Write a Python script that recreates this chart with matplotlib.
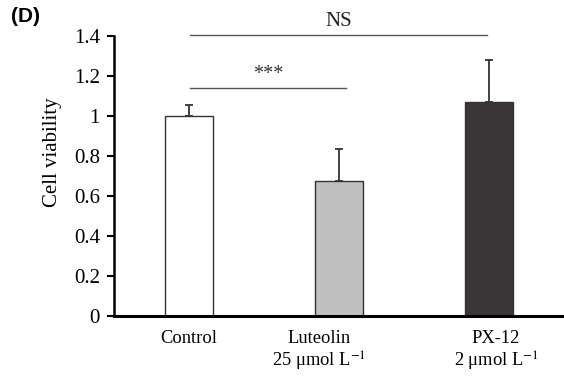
import matplotlib
matplotlib.use("Agg")
import matplotlib.pyplot as plt
import matplotlib.transforms as mtransforms

categories = ["Control", "Luteolin\n25 μmol L$^{-1}$", "PX-12\n2 μmol L$^{-1}$"]
values = [1.0, 0.675, 1.07]
errors = [0.055, 0.16, 0.21]
colors = ["#ffffff", "#c0c0c0", "#3a3637"]
yticks = [0, 0.2, 0.4, 0.6, 0.8, 1, 1.2, 1.4]
ytick_labels = ["0", "0.2", "0.4", "0.6", "0.8", "1", "1.2", "1.4"]
label_shift_px = [0, -20, 7]

plt.rcParams['font.family'] = ['Liberation Serif', 'DejaVu Serif']
plt.rcParams['mathtext.fontset'] = 'stix'

fig = plt.figure(figsize=(5.64, 3.77), dpi=100)
ax = fig.add_axes([0.202, 0.162, 0.798, 0.7425])

x = list(range(len(values)))
ax.bar(x, values, width=0.32, color=colors, edgecolor="#333333", linewidth=1.0, zorder=2)
ax.errorbar(x, values, yerr=[[0]*len(errors), errors], fmt='none', ecolor="#333333",
            elinewidth=1.3, capsize=3, capthick=1.3, zorder=1)

ax.set_xlim(-0.5, 2.5)
ax.set_ylim(0, 1.4)
ax.set_yticks(yticks)
ax.set_yticklabels(ytick_labels, fontsize=15)
ax.set_xticks(x)
ax.set_xticklabels(categories, fontsize=13.3, linespacing=1.2)
ax.tick_params(axis='x', length=0, pad=10)
ax.tick_params(axis='y', direction='out', length=5, width=1.5, pad=5)
for lbl, dx in zip(ax.get_xticklabels(), label_shift_px):
    lbl.set_transform(lbl.get_transform() + mtransforms.ScaledTranslation(dx/100, 0, fig.dpi_scale_trans))

for s in ['top', 'right']:
    ax.spines[s].set_visible(False)
ax.spines['left'].set_linewidth(1.8)
ax.spines['bottom'].set_linewidth(2.2)
ax.set_ylabel("Cell viability", fontsize=15)
ax.yaxis.set_label_coords(-0.116, 0.586)

# significance lines
ax.plot([0.01, 1.05], [1.14, 1.14], color="#555555", lw=1.0, clip_on=False)
ax.text(0.53, 1.16, "***", ha='center', va='bottom', fontsize=14.5, color="#333333")
ax.plot([0.01, 1.99], [1.405, 1.405], color="#555555", lw=1.0, clip_on=False)
ax.text(1.0, 1.425, "NS", ha='center', va='bottom', fontsize=15, color="#222222")

fig.text(0.02, 0.955, "(D)", fontsize=15, fontweight='bold', family='Liberation Sans', va='center')

fig.savefig("out.png", dpi=100)
